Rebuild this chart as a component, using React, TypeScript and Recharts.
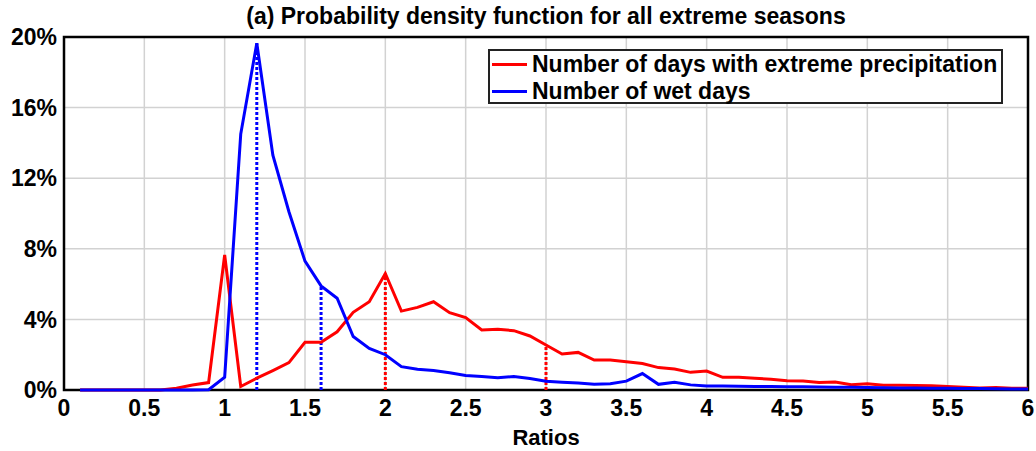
import {
  LineChart,
  CartesianGrid,
  Line,
  XAxis,
  YAxis,
  ReferenceLine,
  ReferenceArea,
} from "recharts"

const ratios = [
  0.1, 0.2, 0.3, 0.4, 0.5, 0.6, 0.7, 0.8, 0.9, 1.0,
  1.1, 1.2, 1.3, 1.4, 1.5, 1.6, 1.7, 1.8, 1.9, 2.0,
  2.1, 2.2, 2.3, 2.4, 2.5, 2.6, 2.7, 2.8, 2.9, 3.0,
  3.1, 3.2, 3.3, 3.4, 3.5, 3.6, 3.7, 3.8, 3.9, 4.0,
  4.1, 4.2, 4.3, 4.4, 4.5, 4.6, 4.7, 4.8, 4.9, 5.0,
  5.1, 5.2, 5.3, 5.4, 5.5, 5.6, 5.7, 5.8, 5.9, 6.0,
]

// % of seasons, days with extreme precipitation
const extremeDays = [
  0, 0, 0, 0, 0, 0, 0.1, 0.28, 0.42, 7.65,
  0.2, 0.67, 1.1, 1.55, 2.7, 2.7, 3.3, 4.4, 5.0, 6.6,
  4.47, 4.68, 5.0, 4.38, 4.1, 3.4, 3.44, 3.36, 3.06, 2.55,
  2.04, 2.13, 1.7, 1.7, 1.6, 1.5, 1.27, 1.19, 1.0, 1.07,
  0.72, 0.72, 0.67, 0.61, 0.53, 0.51, 0.42, 0.45, 0.3, 0.36,
  0.27, 0.27, 0.25, 0.24, 0.2, 0.15, 0.12, 0.14, 0.1, 0.1,
]

// % of seasons, wet days
const wetDays = [
  0, 0, 0, 0, 0, 0, 0, 0, 0.02, 0.72,
  14.5, 19.65, 13.3, 10.1, 7.3, 5.9, 5.2, 3.03, 2.36, 2.0,
  1.32, 1.17, 1.1, 0.98, 0.82, 0.76, 0.7, 0.76, 0.65, 0.5,
  0.44, 0.4, 0.32, 0.36, 0.5, 0.93, 0.32, 0.44, 0.29, 0.23,
  0.22, 0.21, 0.2, 0.2, 0.19, 0.18, 0.17, 0.16, 0.15, 0.14,
  0.13, 0.12, 0.11, 0.1, 0.1, 0.09, 0.08, 0.07, 0.06, 0.05,
]

const xTicks = [0, 0.5, 1, 1.5, 2, 2.5, 3, 3.5, 4, 4.5, 5, 5.5, 6]
const yTicks = [0, 4, 8, 12, 16, 20]

// dotted markers (ratio values)
const wetMarkers = [1.2, 1.6]
const extremeMarkers = [2.0, 3.0]

const data = ratios.map((r, i) => ({ ratio: r, extreme: extremeDays[i], wet: wetDays[i] }))

const valueAt = (series: number[], r: number) =>
  series[ratios.findIndex((x) => Math.abs(x - r) < 1e-6)]

const FONT = "'Liberation Sans', Arial, sans-serif"
const tickStyle = { fontSize: 23, fontWeight: 700, fill: "#000", fontFamily: FONT }

function Legend() {
  const row = (color: string, text: string) => (
    <div style={{ display: "flex", alignItems: "center", height: 27 }}>
      <div style={{ width: 35, height: 3, background: color, marginRight: 5 }} />
      <span>{text}</span>
    </div>
  )
  return (
    <div
      style={{
        position: "absolute",
        left: 488,
        top: 49,
        width: 515,
        height: 55,
        border: "2px solid #222",
        background: "#fff",
        fontFamily: FONT,
        fontWeight: 700,
        fontSize: 23,
        padding: "0 0 0 2px",
        boxSizing: "border-box",
        lineHeight: "27px",
      }}
    >
      {row("#ff0000", "Number of days with extreme precipitation")}
      {row("#0000ff", "Number of wet days")}
    </div>
  )
}

export default function App() {
  return (
    <div style={{ position: "absolute", left: 0, top: 0, width: 1036, height: 451, background: "#fff" }}>
      <div
        style={{
          position: "absolute",
          top: 2,
          left: 64,
          width: 964,
          textAlign: "center",
          fontFamily: FONT,
          fontWeight: 700,
          fontSize: 23,
          lineHeight: "28px",
        }}
      >
        (a) Probability density function for all extreme seasons
      </div>
      <div style={{ position: "absolute", left: 0, top: 0 }}>
        <LineChart width={1036} height={451} data={data} margin={{ top: 37, right: 8, bottom: 0, left: 0 }}>
          <CartesianGrid stroke="#d2d2d2" strokeWidth={1.5} />
          <XAxis
            dataKey="ratio"
            type="number"
            domain={[0, 6]}
            ticks={xTicks}
            interval={0}
            height={61}
            tick={tickStyle}
            tickLine={false}
            axisLine={false}
            tickMargin={4}
            label={{ value: "Ratios", position: "insideBottom", offset: 6, style: { ...tickStyle, fontSize: 22 } }}
          />
          <YAxis
            type="number"
            domain={[0, 20]}
            ticks={yTicks}
            interval={0}
            width={64}
            tick={tickStyle}
            tickLine={false}
            axisLine={false}
            tickMargin={1}
            tickFormatter={(v) => `${v}%`}
          />
          <ReferenceArea x1={0} x2={6} y1={0} y2={20} fill="none" stroke="#000" strokeWidth={2.5} />
          {wetMarkers.map((r) => (
            <ReferenceLine
              key={`w${r}`}
              segment={[{ x: r, y: 0 }, { x: r, y: valueAt(wetDays, r) }]}
              stroke="#0000ff"
              strokeWidth={3}
              strokeDasharray="3 2"
            />
          ))}
          {extremeMarkers.map((r) => (
            <ReferenceLine
              key={`e${r}`}
              segment={[{ x: r, y: 0 }, { x: r, y: valueAt(extremeDays, r) }]}
              stroke="#ff0000"
              strokeWidth={3}
              strokeDasharray="3 2"
            />
          ))}
          <Line type="linear" dataKey="extreme" stroke="#ff0000" strokeWidth={3} dot={false} isAnimationActive={false} />
          <Line type="linear" dataKey="wet" stroke="#0000ff" strokeWidth={3} dot={false} isAnimationActive={false} />
        </LineChart>
      </div>
      <Legend />
    </div>
  )
}
